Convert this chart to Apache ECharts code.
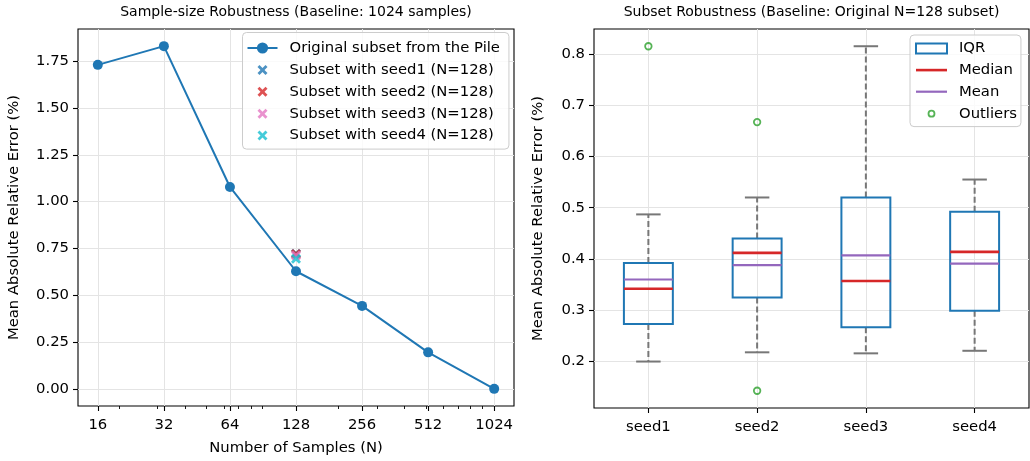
<!DOCTYPE html>
<html>
<head>
<meta charset="utf-8">
<script src="https://cdn.jsdelivr.net/npm/echarts@6/dist/echarts.min.js"></script>
<style>
  html, body { margin: 0; padding: 0; background: #fff; }
  #chart { width: 1030px; height: 461px; }
</style>
</head>
<body>
<div id="chart"></div>
<script>
// ---- data: sample-size sweep (left panel) ----
const sampleSizes = [16, 32, 64, 128, 256, 512, 1024];
const originalMARE = [1.73, 1.83, 1.078, 0.628, 0.443, 0.195, 0.0];
const seedLabels = ['Subset with seed1 (N=128)', 'Subset with seed2 (N=128)', 'Subset with seed3 (N=128)', 'Subset with seed4 (N=128)'];
const seedN = 128;
const seedMARE = [0.722, 0.72, 0.712, 0.695];
const xTickValues = [16, 32, 64, 128, 256, 512, 1024];
const minorTickValues = [20, 30, 40, 50, 60, 70, 80, 90, 200, 300, 400, 500, 600, 700, 800, 900];
const leftYTicks = [0, 0.25, 0.5, 0.75, 1.0, 1.25, 1.5, 1.75];

// ---- data: per-seed distribution summary (right panel) ----
const seedNames = ['seed1', 'seed2', 'seed3', 'seed4'];
const whiskerLow = [0.200, 0.218, 0.216, 0.221];
const q1 = [0.273, 0.325, 0.267, 0.299];
const medians = [0.342, 0.412, 0.357, 0.414];
const q3 = [0.392, 0.440, 0.520, 0.492];
const whiskerHigh = [0.487, 0.520, 0.815, 0.555];
const means = [0.360, 0.388, 0.407, 0.391];
const outlierSeed = [0, 1, 1];
const outlierValue = [0.815, 0.667, 0.143];
const rightYTicks = [0.2, 0.3, 0.4, 0.5, 0.6, 0.7, 0.8];

// ---- styles ----
const FONT = 'DejaVu Sans';
const FONT_SIZE = 14.8;
const BLUE = '#1f77b4', RED = '#d62728', PINK = '#e377c2', CYAN = '#17becf';
const PURPLE = '#9467bd', GREEN = '#2ca02c', WHISKER = '#777777';
const GRID_COLOR = '#e4e4e4';
const seedColors = [BLUE, RED, PINK, CYAN];
const BOX_WIDTH = 0.45;
const X_SHAPE = 'M0,2L2,0L5,3L8,0L10,2L7,5L10,8L8,10L5,7L2,10L0,8L3,5Z';
const X_PATH = 'path://' + X_SHAPE;
const X_LEGEND = 'path://M-2,-2M12,12' + X_SHAPE;

// matplotlib-like 5% padding of data limits
function padded(lo, hi) { const d = (hi - lo) * 0.05; return [lo - d, hi + d]; }
const log2 = Math.log2;
const leftX = padded(log2(sampleSizes[0]), log2(sampleSizes[sampleSizes.length - 1]));
const leftY = padded(Math.min(...originalMARE, ...seedMARE), Math.max(...originalMARE, ...seedMARE));
const allRight = [...whiskerLow, ...whiskerHigh, ...outlierValue];
const rightY = padded(Math.min(...allRight), Math.max(...allRight));

const tickStyle = { show: true, length: 5, inside: false, lineStyle: { color: '#000', width: 1.1 } };
const labelStyle = { color: '#000', fontFamily: FONT, fontSize: FONT_SIZE };
const splitStyle = { show: true, lineStyle: { color: GRID_COLOR, width: 1 } };
const noLine = { show: false, onZero: false };

const chart = echarts.init(document.getElementById('chart'), null, { renderer: 'canvas' });

function renderBox(params, api) {
  const x = api.value(0);
  const w = api.size([BOX_WIDTH, 0])[0];
  const lo = api.coord([x, api.value(1)]);
  const b1 = api.coord([x, api.value(2)]);
  const b3 = api.coord([x, api.value(3)]);
  const hi = api.coord([x, api.value(4)]);
  const cx = lo[0];
  const capHalf = w / 4;
  const dashed = { stroke: WHISKER, lineWidth: 2, lineDash: [6, 3] };
  const solid = { stroke: WHISKER, lineWidth: 2 };
  return {
    type: 'group',
    children: [
      { type: 'line', shape: { x1: cx, y1: b3[1], x2: cx, y2: hi[1] }, style: dashed },
      { type: 'line', shape: { x1: cx, y1: b1[1], x2: cx, y2: lo[1] }, style: dashed },
      { type: 'line', shape: { x1: cx - capHalf, y1: hi[1], x2: cx + capHalf, y2: hi[1] }, style: solid },
      { type: 'line', shape: { x1: cx - capHalf, y1: lo[1], x2: cx + capHalf, y2: lo[1] }, style: solid },
      { type: 'rect', shape: { x: cx - w / 2, y: b3[1], width: w, height: b1[1] - b3[1] },
        style: { fill: 'none', stroke: BLUE, lineWidth: 2 } }
    ]
  };
}

function levelRenderer(lineWidth) {
  return function (params, api) {
    const c = api.coord([api.value(0), api.value(1)]);
    const w = api.size([BOX_WIDTH, 0])[0];
    return {
      type: 'line',
      shape: { x1: c[0] - w / 2, y1: c[1], x2: c[0] + w / 2, y2: c[1] },
      style: { stroke: api.visual('color'), lineWidth: lineWidth }
    };
  };
}

const seedSeries = seedLabels.map((name, i) => ({
  name: name,
  type: 'scatter',
  xAxisIndex: 0, yAxisIndex: 0,
  symbol: X_PATH,
  symbolSize: 10,
  itemStyle: { color: seedColors[i] },
  data: [[log2(seedN), seedMARE[i]]],
  z: 3 + i
}));

const legendText = { color: '#000', fontFamily: FONT, fontSize: FONT_SIZE, lineHeight: 14, padding: [0, 0, 0, 7] };

const option = {
  animation: false,
  backgroundColor: '#fff',
  textStyle: { fontFamily: FONT },
  graphic: [
    { type: 'text', x: 296, y: 12,
      style: { text: 'Sample-size Robustness (Baseline: 1024 samples)', align: 'center', verticalAlign: 'middle',
               font: '14px "DejaVu Sans"', fill: '#000' } },
    { type: 'text', x: 811.5, y: 12,
      style: { text: 'Subset Robustness (Baseline: Original N=128 subset)', align: 'center', verticalAlign: 'middle',
               font: '14px "DejaVu Sans"', fill: '#000' } }
  ],
  grid: [
    { left: 78, right: 516, top: 29, bottom: 53, show: true, borderColor: '#000', borderWidth: 1.1, backgroundColor: 'transparent' },
    { left: 594, right: 1, top: 29, bottom: 53, show: true, borderColor: '#000', borderWidth: 1.1, backgroundColor: 'transparent' }
  ],
  legend: [
    {
      orient: 'vertical', left: 242.5, top: 32.5, padding: [8, 9, 6, 4],
      itemWidth: 30, itemHeight: 14, itemGap: 6.9, symbolKeepAspect: true,
      borderColor: '#cccccc', borderWidth: 1, borderRadius: 4, backgroundColor: 'rgba(255,255,255,0.8)',
      selectedMode: false,
      textStyle: legendText,
      data: [{ name: 'Original subset from the Pile' }].concat(seedLabels.map((name, i) => ({
        name: name, icon: X_LEGEND, itemStyle: { color: seedColors[i] }
      })))
    },
    {
      orient: 'vertical', left: 910, top: 35, padding: [6, 4, 5, 5],
      itemWidth: 31, itemHeight: 14, itemGap: 6.6, symbolKeepAspect: true,
      borderColor: '#cccccc', borderWidth: 1, borderRadius: 4, backgroundColor: 'rgba(255,255,255,0.8)',
      selectedMode: false,
      textStyle: legendText,
      data: [
        { name: 'IQR', icon: 'path://M0,0H31V10H0Z', itemStyle: { color: 'rgba(0,0,0,0)', borderColor: BLUE, borderWidth: 2 } },
        { name: 'Median', icon: 'path://M0,0H31V2.6H0Z', itemStyle: { color: RED, borderWidth: 0 } },
        { name: 'Mean', icon: 'path://M0,0H31V2.2H0Z', itemStyle: { color: PURPLE, borderWidth: 0 } },
        { name: 'Outliers', icon: 'path://M-7,-7M7,7M3,0A3,3,0,1,1,-3,0A3,3,0,1,1,3,0Z',
          itemStyle: { color: 'rgba(0,0,0,0)', borderColor: GREEN, borderWidth: 1.8 } }
      ]
    }
  ],
  xAxis: [
    {
      gridIndex: 0, type: 'value', min: leftX[0], max: leftX[1], position: 'bottom',
      axisLine: noLine,
      axisTick: Object.assign({}, tickStyle, { customValues: xTickValues.map(log2) }),
      axisLabel: Object.assign({}, labelStyle, { margin: 12, customValues: xTickValues.map(log2),
        formatter: v => String(Math.round(Math.pow(2, v))) }),
      splitLine: splitStyle,
      name: 'Number of Samples (N)', nameLocation: 'middle', nameGap: 35,
      nameTextStyle: labelStyle
    },
    {
      gridIndex: 0, type: 'value', min: leftX[0], max: leftX[1], position: 'bottom',
      axisLine: noLine,
      axisTick: Object.assign({}, tickStyle, { length: 3, lineStyle: { color: '#000', width: 0.9 },
        customValues: minorTickValues.map(log2) }),
      axisLabel: { show: false },
      splitLine: { show: false }
    },
    {
      gridIndex: 1, type: 'value', min: 0.5, max: seedNames.length + 0.5, position: 'bottom',
      axisLine: noLine,
      axisTick: Object.assign({}, tickStyle, { customValues: seedNames.map((s, i) => i + 1) }),
      axisLabel: Object.assign({}, labelStyle, { margin: 12, customValues: seedNames.map((s, i) => i + 1),
        formatter: v => seedNames[Math.round(v) - 1] }),
      splitLine: splitStyle
    }
  ],
  yAxis: [
    {
      gridIndex: 0, type: 'value', min: leftY[0], max: leftY[1], position: 'left',
      axisLine: noLine,
      axisTick: Object.assign({}, tickStyle, { customValues: leftYTicks }),
      axisLabel: Object.assign({}, labelStyle, { margin: 9, customValues: leftYTicks, formatter: v => v.toFixed(2) }),
      splitLine: splitStyle,
      name: 'Mean Absolute Relative Error (%)', nameLocation: 'middle', nameGap: 56,
      nameTextStyle: labelStyle
    },
    {
      gridIndex: 1, type: 'value', min: rightY[0], max: rightY[1], position: 'left',
      axisLine: noLine,
      axisTick: Object.assign({}, tickStyle, { customValues: rightYTicks }),
      axisLabel: Object.assign({}, labelStyle, { margin: 9, customValues: rightYTicks, formatter: v => v.toFixed(1) }),
      splitLine: splitStyle,
      name: 'Mean Absolute Relative Error (%)', nameLocation: 'middle', nameGap: 48,
      nameTextStyle: labelStyle
    }
  ],
  series: [
    {
      name: 'Original subset from the Pile',
      type: 'line',
      xAxisIndex: 0, yAxisIndex: 0,
      data: sampleSizes.map((n, i) => [log2(n), originalMARE[i]]),
      symbol: 'circle', symbolSize: 10,
      lineStyle: { color: BLUE, width: 2 },
      itemStyle: { color: BLUE },
      z: 2
    }
  ].concat(seedSeries).concat([
    {
      name: 'IQR',
      type: 'custom',
      xAxisIndex: 2, yAxisIndex: 1,
      itemStyle: { color: BLUE },
      renderItem: renderBox,
      encode: { x: 0, y: [1, 2, 3, 4] },
      data: seedNames.map((s, i) => [i + 1, whiskerLow[i], q1[i], q3[i], whiskerHigh[i]]),
      z: 2
    },
    {
      name: 'Median',
      type: 'custom',
      xAxisIndex: 2, yAxisIndex: 1,
      itemStyle: { color: RED },
      renderItem: levelRenderer(2.6),
      encode: { x: 0, y: 1 },
      data: seedNames.map((s, i) => [i + 1, medians[i]]),
      z: 3
    },
    {
      name: 'Mean',
      type: 'custom',
      xAxisIndex: 2, yAxisIndex: 1,
      itemStyle: { color: PURPLE },
      renderItem: levelRenderer(2.2),
      encode: { x: 0, y: 1 },
      data: seedNames.map((s, i) => [i + 1, means[i]]),
      z: 3
    },
    {
      name: 'Outliers',
      type: 'scatter',
      xAxisIndex: 2, yAxisIndex: 1,
      symbol: 'circle', symbolSize: 6.5,
      itemStyle: { color: 'rgba(0,0,0,0)', borderColor: GREEN, borderWidth: 1.8 },
      data: outlierSeed.map((s, i) => [s + 1, outlierValue[i]]),
      z: 4
    }
  ])
};

chart.setOption(option);
</script>
</body>
</html>
